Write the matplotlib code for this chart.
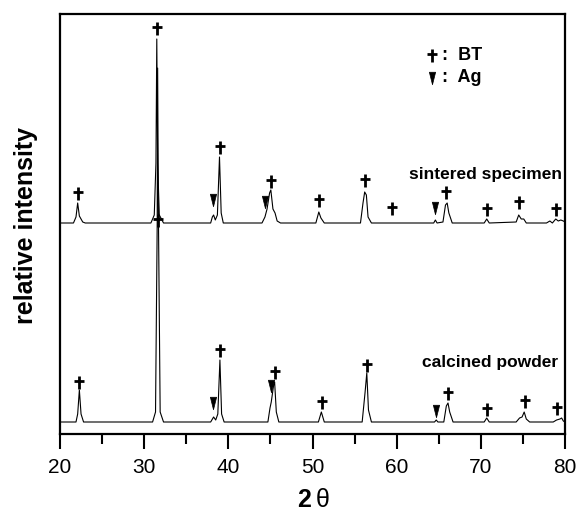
import matplotlib
matplotlib.use('Agg')
import matplotlib.pyplot as plt
from matplotlib.path import Path
from matplotlib.ticker import MultipleLocator

plt.rcParams['font.family'] = ['Liberation Sans', 'DejaVu Sans']

# ---- data (intensity relative to each pattern's baseline) ----
sint_tt = [20.0, 21.6, 21.9, 22.1, 22.3, 22.7, 23.0, 30.8, 31.2, 31.4, 31.5, 31.6, 31.8, 32.3,
           37.9, 38.1, 38.25, 38.45, 38.7, 38.95, 39.15, 39.4, 44.0, 44.35, 44.6, 44.9, 45.05,
           45.3, 45.55, 45.8, 46.2, 50.4, 50.75, 51.0, 51.4, 55.7, 56.0, 56.2, 56.4, 56.6, 57.0,
           64.4, 64.6, 64.8, 65.5, 65.8, 66.0, 66.2, 66.6, 70.4, 70.7, 71.0, 74.2, 74.5, 74.8,
           75.1, 75.4, 77.8, 78.2, 78.5, 78.9, 79.2, 79.5, 79.8, 80.0]
sint_int = [0, 0, 6, 20, 7, 1, 0, 0, 8, 60, 184, 60, 8, 0,
            0, 6, 8, 3, 8, 66, 10, 0, 0, 6, 14, 30, 33,
            14, 10, 2, 0, 0, 11, 5, 0, 0, 20, 31, 28, 6, 0,
            0, 3, 0, 1, 18, 20, 10, 0, 0, 4, 0, 1, 8, 4,
            4, 0, 0, 2, 0, 4, 2, 3, 2, 1]

calc_tt = [20.0, 21.9, 22.1, 22.3, 22.5, 22.8, 31.0, 31.35, 31.55, 31.6, 31.7, 31.9, 32.3,
           37.9, 38.25, 38.5, 38.75, 39.0, 39.2, 39.5, 44.7, 44.95, 45.1, 45.4, 45.5, 45.7, 46.0,
           50.7, 51.05, 51.4, 55.9, 56.25, 56.45, 56.65, 57.0, 64.5, 64.7, 64.9, 65.6, 65.9, 66.1,
           66.3, 66.7, 70.4, 70.7, 71.0, 74.2, 74.6, 74.9, 75.15, 75.4, 75.8, 78.6, 79.0, 79.4,
           79.6, 79.8, 80.0]
calc_int = [0, 0, 8, 32, 8, 0, 0, 10, 200, 354, 200, 10, 0,
            0, 5, 2, 8, 62, 8, 0, 0, 14, 20, 38, 40, 10, 0,
            0, 10, 0, 0, 30, 49, 12, 0, 0, 2, 0, 0, 16, 19,
            10, 0, 0, 4, 0, 0, 4, 5, 10, 3, 0, 0, 2, 3,
            4, 1, 0]

# peak markers: BT (+) and Ag (triangle)
sint_bt_tt = [22.1, 31.5, 39.0, 45.05, 50.8, 56.2, 59.5, 65.9, 70.7, 74.5, 78.9]
sint_bt_y = [30, 195, 76, 42, 23, 43, 15, 31, 14, 21, 14]
sint_ag_tt = [38.2, 44.35, 64.5]
sint_ag_y = [23, 21, 15]

calc_bt_tt = [22.3, 31.6, 39.0, 45.5, 51.1, 56.5, 66.1, 70.7, 75.2, 79.1]
calc_bt_y = [40, 202, 72, 50, 20, 57, 29, 13, 21, 14]
calc_ag_tt = [38.2, 45.05, 64.65]
calc_ag_y = [19, 36, 11]

sint_offset = 211
calc_offset = 12

# ---- markers ----
dagger = Path([(0, -1), (0, 0.9), (-0.7, 0.2), (0.7, 0.2)],
              [Path.MOVETO, Path.LINETO, Path.MOVETO, Path.LINETO])
tri = Path([(-0.3, 0.6), (0.3, 0.6), (0, -0.6), (-0.3, 0.6)],
           [Path.MOVETO, Path.LINETO, Path.LINETO, Path.CLOSEPOLY])

fig = plt.figure(figsize=(5.78, 5.13), dpi=100)
ax = fig.add_axes([60/578, (513-434)/513, 505/578, 420/513])

ax.plot(sint_tt, [v + sint_offset for v in sint_int], color='black', lw=0.8)
ax.plot(calc_tt, [v + calc_offset for v in calc_int], color='black', lw=0.8)

mk_bt = dict(marker=dagger, ls='none', color='black', ms=9.5, mew=2.0)
mk_ag = dict(marker=tri, ls='none', color='black', ms=9, mew=0.5)
ax.plot(sint_bt_tt, [v + sint_offset for v in sint_bt_y], **mk_bt)
ax.plot(sint_ag_tt, [v + sint_offset for v in sint_ag_y], **mk_ag)
ax.plot(calc_bt_tt, [v + calc_offset for v in calc_bt_y], **mk_bt)
ax.plot(calc_ag_tt, [v + calc_offset for v in calc_ag_y], **mk_ag)

# legend in the corner
ax.plot([0.737], [0.902], transform=ax.transAxes, **mk_bt)
ax.plot([0.737], [0.848], transform=ax.transAxes, **mk_ag)
ax.text(0.756, 0.902, ':  BT', transform=ax.transAxes, fontsize=13, fontweight='bold', va='center')
ax.text(0.756, 0.848, ':  Ag', transform=ax.transAxes, fontsize=13, fontweight='bold', va='center')

ax.text(0.994, 0.617, 'sintered specimen', transform=ax.transAxes, fontsize=12.5,
        fontweight='bold', ha='right', va='center')
ax.text(0.986, 0.171, 'calcined powder', transform=ax.transAxes, fontsize=12.5,
        fontweight='bold', ha='right', va='center')

ax.set_xlim(20, 80)
ax.set_ylim(0, 420)
ax.set_yticks([])
ax.xaxis.set_major_locator(MultipleLocator(10))
ax.xaxis.set_minor_locator(MultipleLocator(5))
ax.tick_params(axis='x', which='major', direction='out', length=11, width=1.5, labelsize=15, pad=6)
ax.tick_params(axis='x', which='minor', direction='out', length=7, width=1.5)
for s in ax.spines.values():
    s.set_linewidth(1.6)

fig.text(304/578, (513-500)/513, '2', fontsize=18, fontweight='bold', ha='center', va='center')
fig.text(323/578, (513-500)/513, 'θ', fontsize=18, ha='center', va='center')
fig.text(26/578, (513-225)/513, 'relative intensity', fontsize=18, fontweight='bold',
         rotation=90, ha='center', va='center')

fig.savefig('out.png', dpi=100)
